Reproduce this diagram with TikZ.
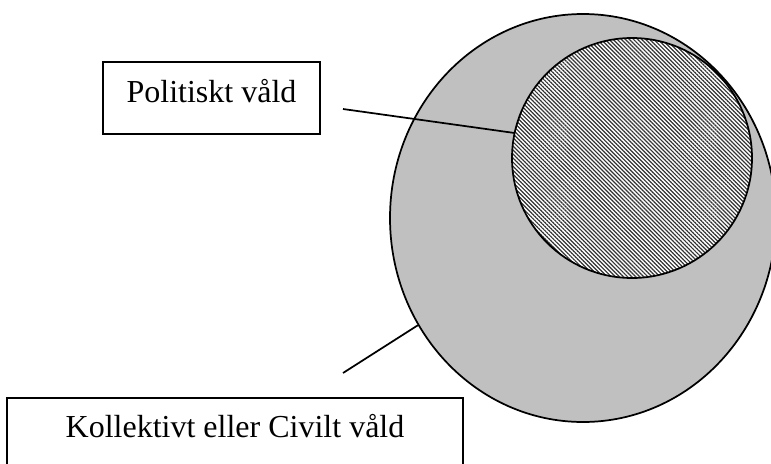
\documentclass[tikz,border=0pt]{standalone}
\usepackage{fontspec}
\setmainfont{Liberation Serif}
\usepackage{tikz}
\usetikzlibrary{shapes.geometric,patterns.meta}
\definecolor{setgray}{RGB}{192,192,192}

\begin{document}
\begin{tikzpicture}[x=0.75pt,y=-0.75pt,line width=1.3pt,
  set node/.style={draw,inner sep=0pt},
  text box/.style={draw,fill=white,inner sep=0pt,anchor=base,
    font=\fontsize{24}{29}\selectfont,text depth=24pt}]
  \useasboundingbox (0,0) rectangle (771,464);
  \node[set node,ellipse,fill=setgray,minimum width=289.5pt,minimum height=306pt] (civil) at (583,218) {};
  \node[set node,circle,minimum size=180pt,preaction={fill=white},
    pattern={Lines[angle=-45,distance=2.15pt,line width=0.9pt]},pattern color=black!80] (politisk) at (632,158) {};
  \node[text box,minimum width=162.75pt,text height=30pt] (politisk_box) at (211.5,102) {Politiskt våld};
  \node[text box,minimum width=342pt,text height=29.25pt] (civil_box) at (235,437) {Kollektivt eller Civilt våld};
  \coordinate (politisk_tip) at (343,109);
  \coordinate (civil_tip) at (343,373);
  \path
    (politisk_tip) edge (politisk.168)
    (civil_tip) edge (civil.213)
;
\end{tikzpicture}
\end{document}
